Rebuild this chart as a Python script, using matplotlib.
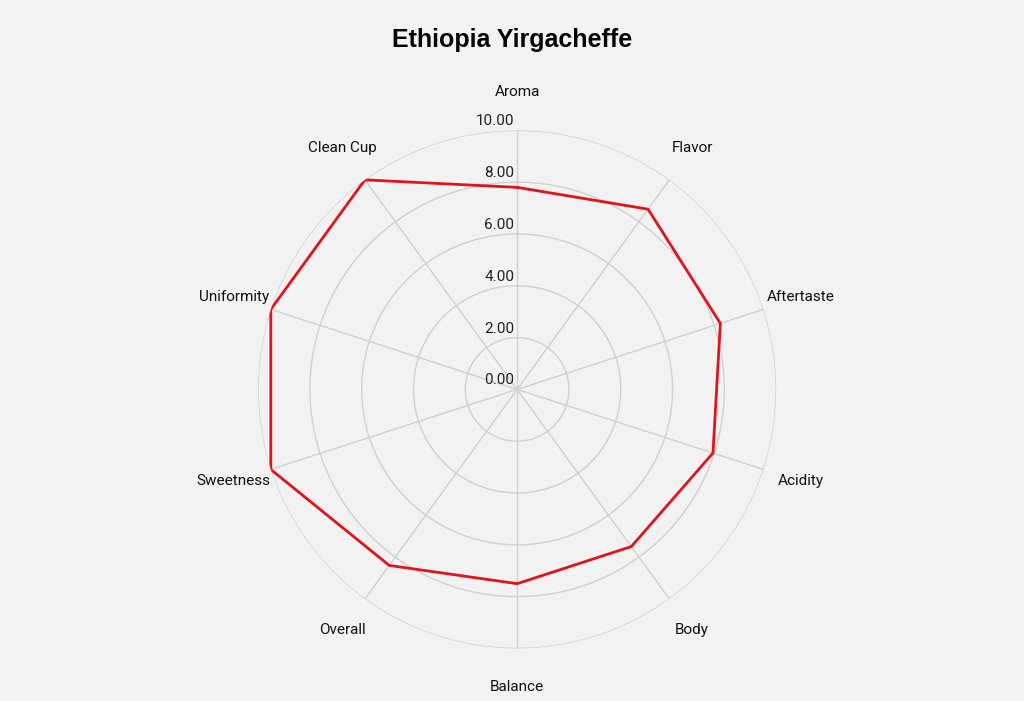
import numpy as np
import matplotlib
matplotlib.use("Agg")
import matplotlib.pyplot as plt
from matplotlib.transforms import offset_copy

plt.rcParams['font.family'] = ['Roboto', 'DejaVu Sans']

categories = ["Aroma", "Flavor", "Aftertaste", "Acidity", "Body",
              "Balance", "Overall", "Sweetness", "Uniformity", "Clean Cup"]
scores = [7.8, 8.6, 8.25, 7.95, 7.5, 7.5, 8.4, 10.0, 10.0, 10.0]
ticks = [0, 2, 4, 6, 8, 10]

bg = "#f2f2f2"
fig = plt.figure(figsize=(10.24, 7.01), dpi=100, facecolor=bg)
ax = fig.add_axes([0.252, 0.075, 0.506, 0.739], projection="polar", facecolor=bg)
ax.set_theta_offset(np.pi / 2)
ax.set_theta_direction(-1)

n = len(categories)
angles = np.arange(n) * 2 * np.pi / n
ax.set_ylim(0, 10)

# circular grid and spokes
th = np.linspace(0, 2 * np.pi, 400)
for t in ticks[1:]:
    ax.plot(th, [t] * len(th), color="#d0d0d0", lw=1, zorder=1)
for a in angles:
    ax.plot([a, a], [0, 10], color="#d0d0d0", lw=1, zorder=1)
ax.grid(False)
ax.spines['polar'].set_visible(False)
ax.set_xticks([])
ax.set_yticks([])

vals = scores + scores[:1]
angs = np.append(angles, angles[0])
ax.plot(angs, vals, color="#e0141c", lw=2, zorder=3)

trans = offset_copy(ax.transData, fig=fig, x=-3, y=2, units="dots")
for t in ticks:
    ax.text(0, t, f"{t:.2f}", transform=trans, ha="right", va="bottom",
            fontsize=11, color="#222222", zorder=4)

for a, c in zip(angles, categories):
    ax.text(a, 11.5, c, ha="center", va="center", fontsize=11, color="#111111")

fig.suptitle("Ethiopia Yirgacheffe", y=0.96, fontsize=18, fontweight="bold",
             fontfamily="Liberation Sans")
fig.savefig("out.png", dpi=100, facecolor=bg)
